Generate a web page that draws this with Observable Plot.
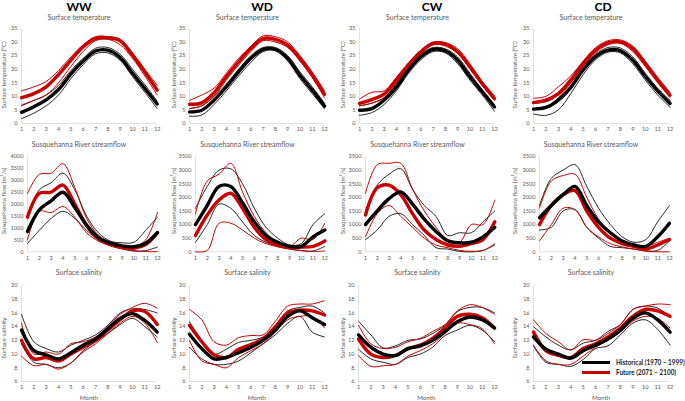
<!DOCTYPE html>
<html><head><meta charset="utf-8">
<script src="https://cdn.jsdelivr.net/npm/d3@7"></script>
<script src="https://cdn.jsdelivr.net/npm/@observablehq/plot@0.6"></script>
<style>
body{margin:0;background:#fff;}
#root{position:relative;width:685px;height:401px;overflow:hidden;font-family:Lato,"Open Sans",sans-serif;background:#fff;}
.t{position:absolute;white-space:nowrap;line-height:1;transform:translate(-50%,-50%);}
.title{font-weight:700;font-size:12px;color:#000;}
.sub{font-size:7px;color:#595959;}
.ylab{font-size:6.2px;color:#595959;transform:translate(-50%,-50%) rotate(-90deg);}
.xlab{font-size:6.2px;color:#595959;}
.panel{position:absolute;}
.leg{position:absolute;font-weight:700;font-size:7.6px;color:#1a1a1a;white-space:nowrap;line-height:1;transform-origin:0 50%;transform:scaleX(0.84);}
.legline{position:absolute;height:3px;}
</style></head><body><div id="root"></div>
<script>
// ---------------- DATA ----------------
const months = [1,2,3,4,5,6,7,8,9,10,11,12];
const scenarios = ["WW","WD","CW","CD"];
const rowTitles = ["Surface temperature","Susquehanna River streamflow","Surface salinity"];
const yTitles = ["Surface temperature (°C)","Susquehanna flow (m³/s)","Surface salinity"];
const legendLabels = ["Historical (1970 – 1999)","Future (2071 – 2100)"];
const tempTicks = [0,5,10,15,20,25,30,35];
const flowTicksWW = [0,500,1000,1500,2000,2500,3000,3500,4000];
const flowTicks = [0,500,1000,1500,2000,2500,3000,3500];
const salTicks = [6,8,10,12,14,16,18,20];

// Surface temperature (°C)
const T_WW_hist_mean = [4.1, 6.2, 8.7, 12.5, 18.2, 23.0, 26.7, 27.0, 24.3, 18.5, 12.9, 7.2];
const T_WW_hist_max  = [6.5, 8.5, 10.5, 14.0, 19.5, 24.0, 27.7, 28.0, 25.5, 20.0, 14.3, 8.2];
const T_WW_hist_min  = [1.8, 3.8, 6.5, 10.5, 16.5, 21.7, 25.7, 26.0, 23.3, 17.3, 11.5, 5.5];
const T_WW_fut_mean  = [9.5, 11.0, 13.5, 18.0, 23.3, 28.3, 31.3, 31.6, 30.5, 25.2, 19.0, 12.3];
const T_WW_fut_max   = [12.0, 13.5, 15.5, 19.5, 24.5, 29.0, 32.0, 32.0, 31.0, 26.0, 20.0, 14.0];
const T_WW_fut_min   = [6.8, 8.5, 10.5, 15.0, 21.0, 26.5, 30.5, 31.0, 29.0, 24.0, 17.5, 10.5];

const T_WD_hist_mean = [4.3, 4.9, 8.6, 13.5, 19.0, 24.0, 27.3, 27.3, 24.0, 17.8, 12.3, 6.4];
const T_WD_hist_max  = [5.5, 6.5, 10.0, 14.5, 20.0, 25.0, 28.0, 28.0, 25.0, 19.0, 13.5, 7.5];
const T_WD_hist_min  = [2.7, 3.1, 7.0, 12.0, 17.5, 22.5, 26.5, 26.8, 23.0, 16.5, 11.0, 5.5];
const T_WD_fut_mean  = [7.1, 7.6, 11.3, 17.2, 22.7, 27.6, 31.3, 31.0, 28.9, 24.0, 17.8, 10.8];
const T_WD_fut_max   = [8.5, 10.5, 13.0, 18.5, 24.0, 28.5, 32.3, 32.0, 30.0, 25.0, 19.0, 12.0];
const T_WD_fut_min   = [5.5, 6.5, 10.0, 16.0, 21.5, 26.5, 30.5, 30.0, 28.0, 23.0, 17.0, 9.5];

const T_CW_hist_mean = [4.9, 5.5, 8.6, 13.3, 19.7, 24.6, 27.3, 26.8, 23.3, 17.2, 11.7, 6.1];
const T_CW_hist_max  = [6.5, 7.5, 9.5, 14.5, 21.0, 25.5, 28.0, 27.5, 24.5, 18.5, 12.5, 7.0];
const T_CW_hist_min  = [3.0, 4.0, 7.0, 12.0, 18.5, 23.5, 26.5, 26.0, 22.0, 16.0, 10.5, 4.5];
const T_CW_fut_mean  = [7.4, 8.8, 10.8, 16.0, 21.5, 26.4, 29.5, 29.2, 26.4, 20.9, 14.7, 9.2];
const T_CW_fut_max   = [9.0, 11.5, 12.0, 17.0, 22.5, 27.0, 30.0, 29.8, 27.5, 22.0, 15.5, 10.2];
const T_CW_fut_min   = [6.5, 7.5, 9.5, 15.0, 20.5, 25.5, 29.0, 28.5, 25.8, 20.0, 14.0, 8.5];

const T_CD_hist_mean = [5.3, 5.9, 8.6, 13.3, 19.7, 24.6, 27.0, 26.8, 23.3, 17.4, 12.0, 7.4];
const T_CD_hist_max  = [7.5, 8.0, 10.5, 15.0, 21.0, 25.5, 28.0, 27.8, 24.5, 18.5, 13.0, 8.5];
const T_CD_hist_min  = [3.5, 3.0, 5.0, 11.0, 18.0, 23.5, 26.3, 26.0, 22.0, 16.0, 10.5, 6.0];
const T_CD_fut_mean  = [7.7, 8.6, 11.0, 16.0, 22.1, 27.0, 29.7, 30.1, 27.6, 22.1, 16.0, 10.4];
const T_CD_fut_max   = [9.3, 10.0, 13.5, 17.5, 23.0, 28.0, 30.5, 30.8, 28.5, 23.0, 17.0, 11.5];
const T_CD_fut_min   = [5.5, 6.0, 9.5, 15.0, 21.0, 26.0, 29.0, 29.5, 26.5, 21.0, 15.0, 9.5];

// Susquehanna River streamflow (m³/s)
const Q_WW_hist_mean = [850, 1760, 2140, 2500, 1860, 1120, 600, 360, 250, 210, 360, 810];
const Q_WW_hist_max  = [1500, 2600, 2900, 3300, 2600, 1500, 800, 450, 380, 400, 900, 1450];
const Q_WW_hist_min  = [350, 900, 1400, 1700, 1400, 900, 500, 250, 120, 30, 50, 200];
const Q_WW_fut_mean  = [1450, 2450, 2500, 2800, 2000, 1100, 550, 320, 200, 150, 300, 800];
const Q_WW_fut_max   = [2450, 3250, 3300, 3700, 2700, 1400, 700, 400, 250, 200, 500, 1650];
const Q_WW_fut_min   = [500, 1700, 1650, 1900, 1450, 800, 450, 250, 130, 50, 10, 10];

const Q_WD_hist_mean = [1000, 1700, 2400, 2400, 1800, 1100, 600, 350, 200, 200, 550, 800];
const Q_WD_hist_max  = [1600, 2400, 3000, 3050, 2500, 1600, 900, 500, 250, 300, 1000, 1400];
const Q_WD_hist_min  = [350, 1000, 1750, 1600, 1100, 600, 350, 200, 100, 40, 30, 200];
const Q_WD_fut_mean  = [600, 1350, 1900, 2150, 1600, 900, 450, 250, 170, 170, 200, 400];
const Q_WD_fut_max   = [1400, 2600, 2850, 3250, 2200, 1300, 700, 350, 200, 500, 450, 1050];
const Q_WD_fut_min   = [0, 50, 1050, 1050, 800, 500, 300, 180, 100, 50, 10, 30];

const Q_CW_hist_mean = [1000, 1500, 1950, 2200, 1750, 1200, 750, 400, 330, 350, 550, 900];
const Q_CW_hist_max  = [1500, 2450, 2850, 3050, 2300, 1700, 1300, 600, 700, 700, 1100, 1500];
const Q_CW_hist_min  = [450, 800, 1300, 1400, 1000, 600, 150, 100, 10, 0, 50, 250];
const Q_CW_fut_mean  = [1350, 2350, 2450, 2100, 1400, 800, 450, 250, 200, 300, 450, 1100];
const Q_CW_fut_max   = [2150, 3200, 3250, 3250, 2300, 1500, 900, 400, 350, 1000, 1000, 1900];
const Q_CW_fut_min   = [550, 1400, 1700, 1300, 900, 500, 250, 150, 50, 20, 50, 300];

const Q_CD_hist_mean = [1250, 1700, 2100, 2400, 1700, 1100, 700, 400, 250, 200, 550, 1050];
const Q_CD_hist_max  = [1700, 2700, 3000, 3200, 2400, 1600, 1000, 550, 350, 450, 1100, 1700];
const Q_CD_hist_min  = [800, 900, 1500, 1550, 900, 500, 200, 150, 100, 40, 50, 400];
const Q_CD_fut_mean  = [1000, 1700, 2100, 2250, 1500, 900, 500, 300, 200, 100, 250, 450];
const Q_CD_fut_max   = [1600, 2600, 2800, 2850, 2000, 1200, 700, 400, 250, 200, 350, 500];
const Q_CD_fut_min   = [400, 1000, 1600, 1550, 900, 550, 300, 180, 100, 20, 0, 0];

// Surface salinity
const S_WW_hist_mean = [13.5, 10.5, 9.9, 9.3, 10.2, 11.3, 12.2, 13.7, 15.2, 15.9, 14.9, 13.2];
const S_WW_hist_max  = [15.8, 11.8, 10.8, 10.3, 11.3, 12.0, 12.8, 14.2, 16.0, 16.6, 16.5, 16.0];
const S_WW_hist_min  = [11.5, 8.8, 8.5, 8.0, 8.7, 10.5, 11.8, 13.0, 14.3, 15.2, 14.0, 12.5];
const S_WW_fut_mean  = [12.0, 9.3, 9.5, 9.0, 10.0, 11.0, 12.0, 13.5, 15.0, 16.3, 16.2, 14.3];
const S_WW_fut_max   = [14.5, 10.0, 10.3, 10.0, 11.5, 11.8, 12.5, 14.0, 15.8, 16.8, 17.4, 16.7];
const S_WW_fut_min   = [9.7, 8.3, 8.5, 7.8, 8.7, 10.3, 11.5, 13.0, 14.5, 15.5, 14.5, 11.7];

const S_WD_hist_mean = [12.9, 10.8, 9.3, 9.5, 10.2, 11.0, 12.0, 13.5, 15.5, 16.3, 15.3, 14.3];
const S_WD_hist_max  = [14.7, 12.0, 10.0, 10.7, 11.7, 12.0, 12.5, 14.0, 16.3, 16.8, 17.0, 16.0];
const S_WD_hist_min  = [11.0, 9.3, 8.5, 8.5, 9.0, 10.2, 11.5, 12.8, 14.5, 15.5, 13.2, 12.5];
const S_WD_fut_mean  = [14.2, 11.8, 9.9, 9.5, 10.7, 11.4, 12.2, 14.0, 16.0, 16.4, 16.3, 15.7];
const S_WD_fut_max   = [16.5, 15.0, 11.8, 11.3, 12.4, 12.7, 12.8, 14.8, 17.0, 17.3, 17.3, 17.8];
const S_WD_fut_min   = [12.0, 9.0, 8.5, 8.0, 9.5, 10.5, 11.5, 13.2, 15.0, 15.5, 15.5, 13.8];

const S_CW_hist_mean = [12.8, 11.0, 10.0, 9.8, 10.8, 11.2, 12.0, 13.3, 14.7, 15.4, 15.0, 13.8];
const S_CW_hist_max  = [14.8, 12.8, 10.9, 11.2, 12.0, 12.2, 13.0, 14.2, 16.2, 16.8, 16.8, 16.0];
const S_CW_hist_min  = [10.7, 9.3, 8.8, 8.5, 9.5, 10.0, 11.0, 12.7, 13.5, 14.2, 13.5, 11.8];
const S_CW_fut_mean  = [12.2, 10.0, 9.5, 9.8, 10.8, 11.3, 12.3, 13.8, 15.5, 15.8, 15.3, 13.8];
const S_CW_fut_max   = [14.2, 11.5, 10.8, 11.0, 11.8, 12.3, 13.3, 14.3, 16.3, 17.2, 16.8, 15.8];
const S_CW_fut_min   = [9.8, 8.2, 8.3, 8.5, 9.7, 10.5, 11.5, 13.0, 14.5, 14.3, 13.7, 11.5];

const S_CD_hist_mean = [12.5, 10.7, 10.0, 9.4, 10.5, 11.3, 12.2, 13.5, 15.2, 16.0, 15.0, 13.2];
const S_CD_hist_max  = [14.0, 12.5, 11.3, 10.6, 11.6, 12.0, 13.3, 14.3, 16.5, 17.0, 16.7, 15.5];
const S_CD_hist_min  = [11.2, 8.8, 8.5, 8.2, 9.2, 10.8, 11.2, 12.8, 14.5, 15.0, 13.6, 11.3];
const S_CD_fut_mean  = [13.2, 10.5, 9.8, 9.5, 10.8, 11.5, 12.5, 13.8, 15.5, 16.5, 16.3, 15.5];
const S_CD_fut_max   = [15.0, 13.0, 11.8, 10.6, 12.1, 12.0, 13.0, 14.3, 16.5, 17.0, 17.3, 17.2];
const S_CD_fut_min   = [11.3, 9.0, 8.5, 8.5, 9.7, 11.0, 12.0, 13.2, 14.8, 15.5, 15.2, 13.8];

// ---------------- BUILD ----------------
const panelData = {
  T: {WW:[T_WW_hist_mean,T_WW_hist_max,T_WW_hist_min,T_WW_fut_mean,T_WW_fut_max,T_WW_fut_min],
      WD:[T_WD_hist_mean,T_WD_hist_max,T_WD_hist_min,T_WD_fut_mean,T_WD_fut_max,T_WD_fut_min],
      CW:[T_CW_hist_mean,T_CW_hist_max,T_CW_hist_min,T_CW_fut_mean,T_CW_fut_max,T_CW_fut_min],
      CD:[T_CD_hist_mean,T_CD_hist_max,T_CD_hist_min,T_CD_fut_mean,T_CD_fut_max,T_CD_fut_min]},
  Q: {WW:[Q_WW_hist_mean,Q_WW_hist_max,Q_WW_hist_min,Q_WW_fut_mean,Q_WW_fut_max,Q_WW_fut_min],
      WD:[Q_WD_hist_mean,Q_WD_hist_max,Q_WD_hist_min,Q_WD_fut_mean,Q_WD_fut_max,Q_WD_fut_min],
      CW:[Q_CW_hist_mean,Q_CW_hist_max,Q_CW_hist_min,Q_CW_fut_mean,Q_CW_fut_max,Q_CW_fut_min],
      CD:[Q_CD_hist_mean,Q_CD_hist_max,Q_CD_hist_min,Q_CD_fut_mean,Q_CD_fut_max,Q_CD_fut_min]},
  S: {WW:[S_WW_hist_mean,S_WW_hist_max,S_WW_hist_min,S_WW_fut_mean,S_WW_fut_max,S_WW_fut_min],
      WD:[S_WD_hist_mean,S_WD_hist_max,S_WD_hist_min,S_WD_fut_mean,S_WD_fut_max,S_WD_fut_min],
      CW:[S_CW_hist_mean,S_CW_hist_max,S_CW_hist_min,S_CW_fut_mean,S_CW_fut_max,S_CW_fut_min],
      CD:[S_CD_hist_mean,S_CD_hist_max,S_CD_hist_min,S_CD_fut_mean,S_CD_fut_max,S_CD_fut_min]}
};
const rowKeys = ["T","Q","S"];
const BLACK = "#000000", RED = "#c80000";

// layout (pixels)
const rowY = [ {top:28.3, bot:123.3, sub:16.5, ytitle:75},
               {top:155.7, bot:251, sub:144.3, ytitle:201},
               {top:285, bot:381, sub:272.3, ytitle:338} ];
const colX = [
  [[21,156.7],[189.3,324.3],[359.3,494.3],[532.7,669.3]],
  [[26.7,156.7],[195,324.3],[365,494.3],[539.3,669.3]],
  [[21,156.7],[189.3,324.3],[358.3,494.3],[532.7,669.3]]
];
const titleX = [79, 262, 432, 603];
const subX = [79, 247.5, 417.5, 591];
const ytitleX = [3.8, 173.5, 342.5, 515];

const root = document.getElementById("root");
function addText(cls, txt, x, y) {
  const d = document.createElement("div");
  d.className = "t " + cls; d.textContent = txt;
  d.style.left = x + "px"; d.style.top = y + "px";
  root.appendChild(d);
}

scenarios.forEach((sc, c) => addText("title", sc, titleX[c], 6.5));

rowKeys.forEach((rk, r) => {
  scenarios.forEach((sc, c) => {
    addText("sub", rowTitles[r], subX[c], rowY[r].sub);
    addText("ylab", yTitles[r], ytitleX[c], rowY[r].ytitle);
    const [x1, x2] = colX[r][c];
    const {top, bot} = rowY[r];
    const mL = 24, mR = 5, mT = 4, mB = 12;
    const ser = panelData[rk][sc];
    const names = ["hist_mean","hist_max","hist_min","fut_mean","fut_max","fut_min"];
    const rows = [];
    ser.forEach((vals, k) => vals.forEach((v, i) => rows.push({month: months[i], value: v, s: names[k]})));
    let yDomain, yTicks;
    if (rk === "T") { yDomain = [0,35]; yTicks = tempTicks; }
    else if (rk === "Q") { yTicks = sc === "WW" ? flowTicksWW : flowTicks; yDomain = [0, yTicks[yTicks.length-1]]; }
    else { yDomain = [6,20]; yTicks = salTicks; }
    const only = s => rows.filter(d => d.s === s);
    const svg = Plot.plot({
      width: (x2 - x1) + mL + mR,
      height: (bot - top) + mT + mB,
      marginLeft: mL, marginRight: mR, marginTop: mT, marginBottom: mB,
      style: {fontFamily: "Lato, sans-serif", fontSize: "5.6px", color: "#595959", background: "transparent", overflow: "visible"},
      x: {domain: [1,12], ticks: months, tickSize: 0, tickPadding: 4, tickFormat: d => String(d), label: null},
      y: {domain: yDomain, ticks: yTicks, tickSize: 0, tickPadding: 4, tickFormat: d => String(d), label: null},
      marks: [
        Plot.ruleX([1], {stroke: "#d9d9d9", strokeWidth: 0.8}),
        Plot.ruleY([yDomain[0]], {stroke: "#d9d9d9", strokeWidth: 0.8}),
        Plot.line(rows.filter(d => d.s === "hist_max" || d.s === "hist_min"), {x: "month", y: "value", z: "s", stroke: BLACK, strokeWidth: 1, strokeOpacity: 0.85, curve: "catmull-rom"}),
        Plot.line(rows.filter(d => d.s === "fut_max" || d.s === "fut_min"), {x: "month", y: "value", z: "s", stroke: RED, strokeWidth: 1, curve: "catmull-rom"}),
        Plot.line(only("fut_mean"), {x: "month", y: "value", stroke: RED, strokeWidth: 3.4, curve: "catmull-rom"}),
        Plot.line(only("hist_mean"), {x: "month", y: "value", stroke: BLACK, strokeWidth: 3.4, curve: "catmull-rom"})
      ]
    });
    const wrap = document.createElement("div");
    wrap.className = "panel";
    wrap.style.left = (x1 - mL) + "px";
    wrap.style.top = (top - mT) + "px";
    wrap.appendChild(svg);
    root.appendChild(wrap);
    if (r === 2) addText("xlab", "Month", (x1 + x2) / 2, 397.5);
  });
});

// legend
[[BLACK, legendLabels[0], 362.7], [RED, legendLabels[1], 372.7]].forEach(([col, lab, y]) => {
  const l = document.createElement("div");
  l.className = "legline"; l.style.background = col;
  l.style.left = "582px"; l.style.width = "28px"; l.style.top = (y - 1.5) + "px";
  root.appendChild(l);
  const t = document.createElement("div");
  t.className = "leg"; t.textContent = lab;
  t.style.left = "616px"; t.style.top = (y - 4) + "px";
  root.appendChild(t);
});
</script></body></html>
